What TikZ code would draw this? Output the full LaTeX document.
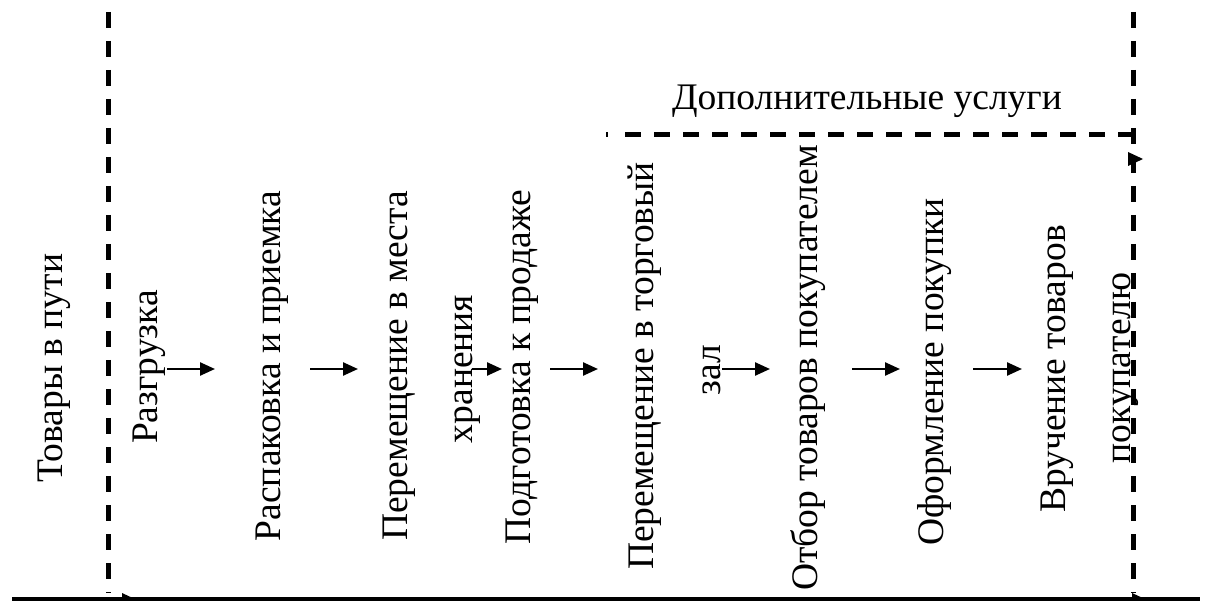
\documentclass[tikz,border=0pt]{standalone}
\usepackage{fontspec}
\setmainfont{Liberation Serif}
\newfontfamily\tnr{Liberation Serif}
\usetikzlibrary{arrows.meta,calc}
\begin{document}
\begin{tikzpicture}[x=1pt,y=-1pt,
  lbl/.style={rotate=90,anchor=base,inner sep=0pt,font=\tnr\fontsize{37.5}{42}\selectfont},
  hlbl/.style={anchor=base,inner sep=0pt,font=\tnr\fontsize{37.5}{42}\selectfont},
  flow/.style={line width=2.4pt,-{Triangle[length=15pt,width=13pt]}},
  bound/.style={line width=5pt,dash pattern=on 16pt off 13pt},
  base/.style={line width=6pt}]
\useasboundingbox (0,0) rectangle (1205,601);
% labels
\node[lbl] (t0) at (62,368) {Товары в пути};
\node[lbl] (t1) at (157,367) {Разгрузка};
\node[lbl] (t2) at (280,366) {Распаковка и приемка};
\node[lbl] (t3) at (407,366) {Перемещение в места};
\node[lbl] (t3b) at (472,369) {хранения};
\node[lbl] (t4) at (530,367) {Подготовка к продаже};
\node[lbl] (t5) at (653,366) {Перемещение в торговый};
\node[lbl] (t5b) at (720,370) {зал};
\node[lbl] (t6) at (817,368) {Отбор товаров покупателем};
\node[lbl] (t7) at (943,372) {Оформление покупки};
\node[lbl] (t8) at (1065,369) {Вручение товаров};
\node[lbl] (t8b) at (1130,368) {покупателю};
\node[hlbl] (dop) at (867,110) {Дополнительные услуги};
% arrow coordinates
\coordinate (a1s) at (167,369); \coordinate (a1e) at (215,369);
\coordinate (a2s) at (310,369); \coordinate (a2e) at (358,369);
\coordinate (a3s) at (472,369); \coordinate (a3e) at (502,369);
\coordinate (a4s) at (550,369); \coordinate (a4e) at (598,369);
\coordinate (a5s) at (722,369); \coordinate (a5e) at (770,369);
\coordinate (a6s) at (852,369); \coordinate (a6e) at (900,369);
\coordinate (a7s) at (973,369); \coordinate (a7e) at (1022,369);
\foreach \i in {1,...,7} {\draw[flow] (a\i s) -- (a\i e);}
% boundaries
\coordinate (lt) at (108,12); \coordinate (lb) at (108,593);
\coordinate (rt) at (1133,12); \coordinate (rb) at (1133,593);
\draw[bound] (lt) -- (lb);
\draw[bound] (rt) -- (rb);
\coordinate (ds) at (606,135); \coordinate (de) at (1133,135);
\draw[line width=5pt] (ds) -- ++(2,0);
\draw[bound] ($(ds)+(19,0)$) -- (de);
\coordinate (bl) at (12,600); \coordinate (br) at (1200,600);
\draw[base] (bl) -- (br);
% arrowheads
\coordinate (h1e) at (137,600);
\coordinate (h2e) at (1147,600);
\coordinate (h3e) at (1143,159);
\foreach \i in {1,2,3} {\fill (h\i e) -- ++(-15,-7) -- ++(0,14) -- cycle;}
\end{tikzpicture}
\end{document}
